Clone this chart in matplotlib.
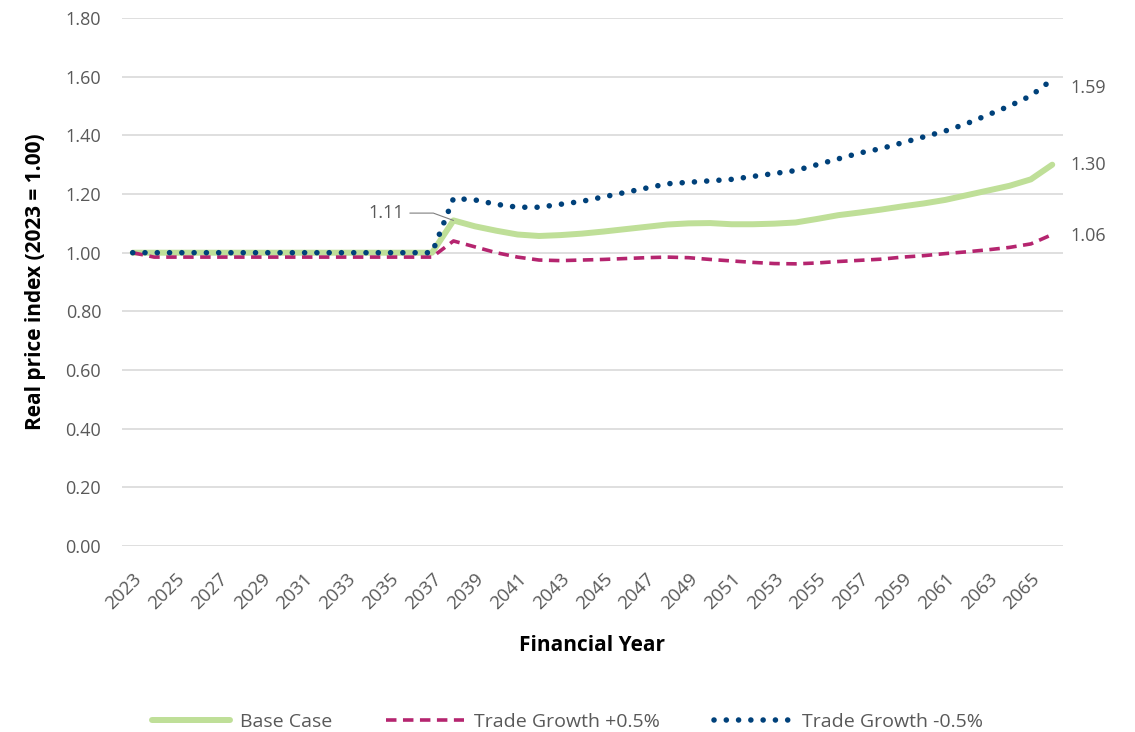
import matplotlib.pyplot as plt

plt.rcParams['font.family'] = ['Open Sans', 'DejaVu Sans']

years = list(range(2023, 2067))

base_case = [1.00] * 15 + [
    1.11, 1.09, 1.075, 1.062, 1.057, 1.06, 1.065, 1.072, 1.08, 1.088,
    1.096, 1.10, 1.101, 1.097, 1.097, 1.099, 1.103, 1.115, 1.128, 1.137,
    1.147, 1.158, 1.168, 1.18, 1.196, 1.212, 1.228, 1.25, 1.30]

trade_plus = [1.00] + [0.985] * 14 + [
    1.04, 1.02, 1.00, 0.985, 0.975, 0.973, 0.975, 0.977, 0.98, 0.983,
    0.985, 0.983, 0.977, 0.972, 0.967, 0.963, 0.962, 0.965, 0.97, 0.974,
    0.978, 0.985, 0.99, 0.997, 1.003, 1.01, 1.018, 1.03, 1.062]

trade_minus = [1.00] * 15 + [
    1.185, 1.18, 1.165, 1.155, 1.155, 1.165, 1.175, 1.19, 1.205, 1.22,
    1.235, 1.24, 1.245, 1.25, 1.26, 1.27, 1.28, 1.30, 1.32, 1.34,
    1.355, 1.375, 1.395, 1.415, 1.44, 1.47, 1.50, 1.535, 1.59]

yticks = [0.0, 0.2, 0.4, 0.6, 0.8, 1.0, 1.2, 1.4, 1.6, 1.8]

green = "#BFDF98"
magenta = "#B5256F"
navy = "#00417A"
grey = "#595959"

fig = plt.figure(figsize=(11.35, 7.32), dpi=100)
ax = fig.add_axes([0.1075, 0.254, 0.829, 0.7214])

x = list(range(len(years)))
ax.plot(x, base_case, color=green, lw=4.3, solid_capstyle="round", label="Base Case")
ax.plot(x, trade_plus, color=magenta, lw=2.6, linestyle=(0, (2.9, 1.8)), label="Trade Growth +0.5%")
ax.plot(x, trade_minus, color=navy, lw=4.0, linestyle=(0, (0.01, 2.2)),
        dash_capstyle="round", label="Trade Growth -0.5%")

ax.set_xlim(-0.5, len(years) - 0.5)
ax.set_ylim(0, 1.8)
ax.set_yticks(yticks)
ax.set_yticklabels([f"{v:.2f}" for v in yticks], color=grey, fontsize=13)
ax.set_xticks(x[::2])
ax.set_xticklabels([str(y) for y in years[::2]], rotation=45, ha="right",
                   rotation_mode="anchor", color=grey, fontsize=13.5)
ax.tick_params(axis="y", length=0, pad=15)
ax.tick_params(axis="x", length=0, pad=17)
ax.grid(axis="y", color="#D9D9D9", lw=1.2)
ax.set_axisbelow(True)
for s in ax.spines.values():
    s.set_visible(False)

ax.set_ylabel("Real price index (2023 = 1.00)", fontsize=15, fontweight="bold", labelpad=14)
ax.set_xlabel("Financial Year", fontsize=15, fontweight="bold", labelpad=16)

# data labels
ax.annotate(f"{base_case[15]:.2f}", xy=(x[15], base_case[15]), xytext=(x[13] - 0.3, 1.135),
            ha="right", va="center", color=grey, fontsize=13,
            arrowprops=dict(arrowstyle="-", color="#7F7F7F", lw=0.8,
                            connectionstyle="angle,angleA=0,angleB=-20,rad=0", shrinkA=2, shrinkB=0))
for series, yoff in [(trade_minus, -0.03), (base_case, 0.0), (trade_plus, -0.005)]:
    ax.annotate(f"{series[-1]:.2f}", xy=(x[-1], series[-1] + yoff), xytext=(13, 0),
                textcoords="offset points", va="center", ha="left", color=grey,
                fontsize=13, annotation_clip=False)

fig.legend(loc="lower center", bbox_to_anchor=(0.5, -0.022), ncol=3, frameon=False,
           fontsize=14, handlelength=4.0, handletextpad=0.5, columnspacing=2.8,
           labelcolor=grey)

fig.savefig("out.png", dpi=100)
